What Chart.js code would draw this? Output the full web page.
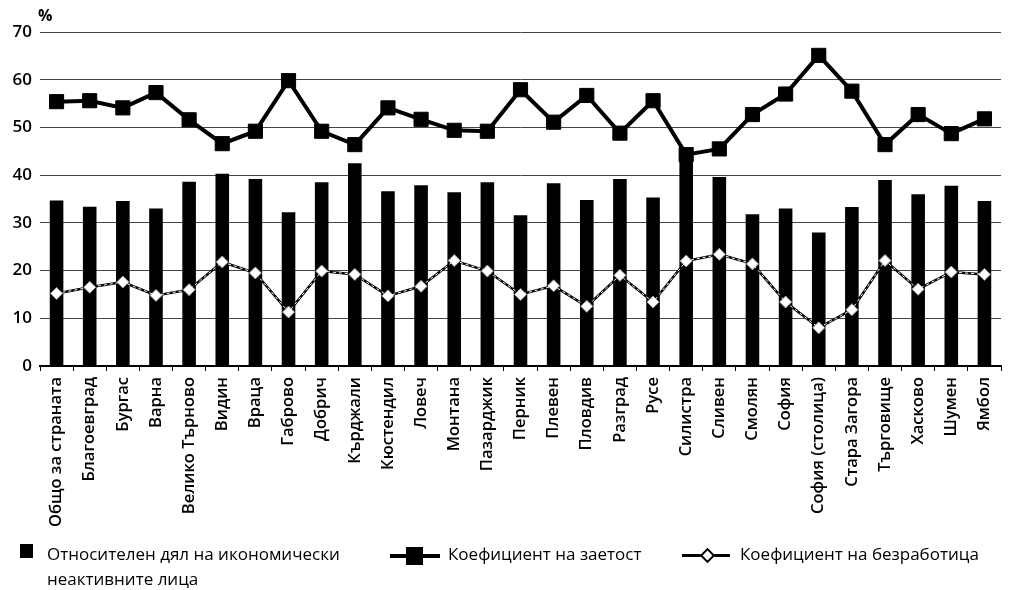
<!DOCTYPE html>
<html>
<head>
<meta charset="utf-8">
<script src="https://cdn.jsdelivr.net/npm/chart.js"></script>
<style>
    body { margin: 0; background: #fff; }
    #wrap { position: relative; width: 1012px; height: 590px; }
    #chart { position: absolute; left: 0; top: 0; }
    .unit { position: absolute; left: 38px; top: 4px; font: 700 16px "Open Sans", sans-serif; }
    .legend { position: absolute; top: 541px; font: 17px "Open Sans", sans-serif; color: #000; line-height: 25px; }
    .mk { position: absolute; }
</style>
</head>
<body>
<div id="wrap">
    <canvas id="chart" width="1012" height="590"></canvas>
    <div class="unit">%</div>

    <div class="mk" style="left:20px; top:544px; width:13px; height:14px; background:#000;"></div>
    <div class="legend" style="left:47px;">Относителен дял на икономически<br>неактивните лица</div>

    <div class="mk" style="left:390px; top:554px; width:50px; height:4px; background:#000;"></div>
    <div class="mk" style="left:406px; top:547px; width:17px; height:18px; background:#000;"></div>
    <div class="legend" style="left:448px;">Коефициент на заетост</div>

    <div class="mk" style="left:682px; top:554px; width:48px; height:3px; background:#000;"></div>
    <div class="mk" style="left:702px; top:550px; width:7px; height:7px; background:#fff; border:2px solid #000; transform:rotate(45deg);"></div>
    <div class="legend" style="left:740px;">Коефициент на безработица</div>
</div>
<script>
// Regions
const regions = [
    'Общо за страната', 'Благоевград', 'Бургас', 'Варна', 'Велико Търново',
    'Видин', 'Враца', 'Габрово', 'Добрич', 'Кърджали', 'Кюстендил', 'Ловеч',
    'Монтана', 'Пазарджик', 'Перник', 'Плевен', 'Пловдив', 'Разград', 'Русе',
    'Силистра', 'Сливен', 'Смолян', 'София', 'София (столица)', 'Стара Загора',
    'Търговище', 'Хасково', 'Шумен', 'Ямбол'
];

// Относителен дял на икономически неактивните лица
const inactiveShare = [
    34.7, 33.4, 34.6, 33.0, 38.6, 40.3, 39.2, 32.2, 38.5, 42.5,
    36.6, 37.9, 36.4, 38.5, 31.6, 38.3, 34.8, 39.2, 35.3, 44.5,
    39.6, 31.8, 33.0, 28.0, 33.3, 39.0, 36.0, 37.8, 34.6
];

// Коефициент на заетост
const employmentRate = [
    55.4, 55.6, 54.1, 57.3, 51.6, 46.6, 49.2, 59.8, 49.2, 46.4,
    54.1, 51.7, 49.4, 49.2, 57.9, 51.1, 56.7, 48.8, 55.6, 44.3,
    45.5, 52.7, 57.0, 65.1, 57.6, 46.4, 52.7, 48.7, 51.8
];

// Коефициент на безработица
const unemploymentRate = [
    15.2, 16.5, 17.6, 14.8, 16.0, 21.8, 19.5, 11.3, 19.9, 19.2,
    14.7, 16.7, 22.1, 19.9, 15.0, 16.8, 12.5, 19.0, 13.4, 22.0,
    23.4, 21.4, 13.4, 8.0, 11.8, 22.1, 16.1, 19.7, 19.2
];

const yTicks = [0, 10, 20, 30, 40, 50, 60, 70];

new Chart(document.getElementById('chart'), {
    data: {
        labels: regions,
        datasets: [
            {
                type: 'line',
                label: 'Коефициент на заетост',
                data: employmentRate,
                borderColor: '#000',
                backgroundColor: '#000',
                borderWidth: 4,
                pointStyle: 'rect',
                pointRadius: 10,
                pointBorderWidth: 1,
                order: 0
            },
            {
                // white dashes over the unemployment line
                type: 'line',
                label: '',
                data: unemploymentRate,
                borderColor: '#fff',
                borderWidth: 1,
                borderDash: [3, 3],
                pointRadius: 0,
                order: 1
            },
            {
                type: 'line',
                label: 'Коефициент на безработица',
                data: unemploymentRate,
                borderColor: '#000',
                borderWidth: 2.5,
                pointStyle: 'rectRot',
                pointRadius: 6,
                pointBackgroundColor: '#fff',
                pointBorderColor: '#999',
                pointBorderWidth: 1,
                order: 2
            },
            {
                type: 'bar',
                label: 'Относителен дял на икономически неактивните лица',
                data: inactiveShare,
                backgroundColor: '#000',
                barPercentage: 0.41,
                categoryPercentage: 1,
                order: 3
            }
        ]
    },
    options: {
        responsive: false,
        animation: false,
        layout: { padding: { top: 32, right: 0, bottom: 50, left: 0 } },
        plugins: {
            legend: { display: false },
            tooltip: { enabled: false }
        },
        scales: {
            x: {
                offset: true,
                afterFit: function(scale) { scale.height = 174; },
                grid: { drawOnChartArea: false, color: '#000', tickLength: 5 },
                border: { color: '#000', width: 2 },
                ticks: {
                    color: '#000',
                    font: { family: 'Open Sans', size: 16.5, weight: '600' },
                    maxRotation: 90,
                    minRotation: 90,
                    autoSkip: false,
                    padding: 6
                }
            },
            y: {
                min: 0,
                max: 70,
                afterFit: function(scale) { scale.width = 40; },
                afterBuildTicks: function(scale) {
                    scale.ticks = yTicks.map(v => ({ value: v }));
                },
                grid: { color: '#444', lineWidth: 1, drawTicks: false },
                border: { display: false },
                ticks: {
                    color: '#000',
                    font: { family: 'Open Sans', size: 17, weight: '600' },
                    padding: 8
                }
            }
        }
    }
});
</script>
</body>
</html>
